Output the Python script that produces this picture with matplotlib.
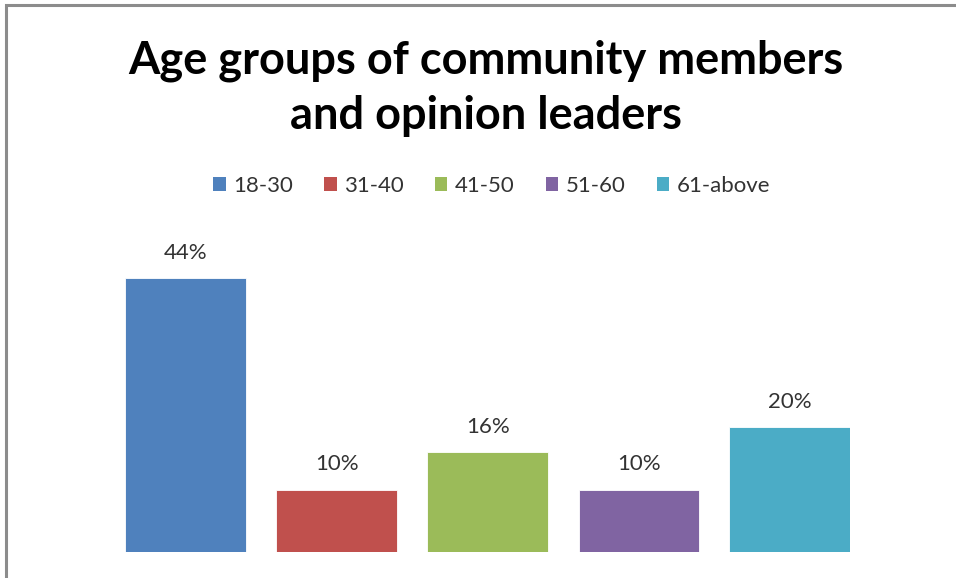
import matplotlib.pyplot as plt
from matplotlib.patches import Rectangle, Patch

groups = ['18-30', '31-40', '41-50', '51-60', '61-above']
values = [44, 10, 16, 10, 20]
colors = ['#4f81bd', '#c0504d', '#9bbb59', '#8064a2', '#4bacc6']

plt.rcParams['font.family'] = ['Lato', 'DejaVu Sans']

fig = plt.figure(figsize=(9.56, 5.78), dpi=100)

# plot area placed in pixels of the reference
W, H = 956, 578
ax = fig.add_axes([125.5 / W, 1 - 552 / H, 724.8 / W, 311.5 / H])
x = list(range(len(groups)))
ax.bar(x, values, width=0.8, color=colors, edgecolor='white', linewidth=0.6)
ax.set_xlim(-0.4, 4.4)
ax.set_ylim(0, 50)
ax.axis('off')

for xi, v in zip(x, values):
    ax.annotate(f'{v}%', (xi, v), xytext=(0, 11), textcoords='offset points',
                ha='center', va='bottom', fontsize=16, color='#333333')

# outer border of the chart area
fig.patches.append(Rectangle((6 / W, -0.05), 1.2, (1 - 5 / H) + 0.05,
                             transform=fig.transFigure, fill=False,
                             edgecolor='#8c8c8c', linewidth=2.2))

fig.text(486 / W, 1 - 88 / H, 'Age groups of community members\nand opinion leaders',
         ha='center', va='center', fontsize=32.5, fontweight='bold',
         linespacing=1.38, color='black')

handles = [Patch(facecolor=c, edgecolor='none') for c in colors]
fig.legend(handles, groups, loc='center', bbox_to_anchor=(492 / W, 1 - 186 / H),
           ncol=5, frameon=False, fontsize=16, handlelength=0.55, handleheight=0.55,
           handletextpad=0.35, columnspacing=1.4, labelcolor='#333333')

fig.savefig('out.png', dpi=100)
